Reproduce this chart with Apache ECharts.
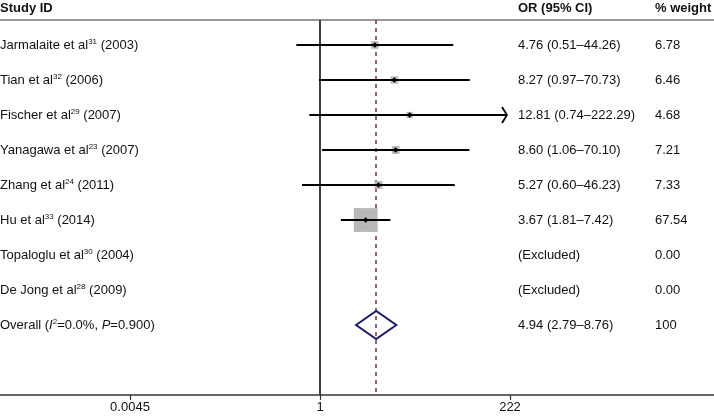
<!DOCTYPE html>
<html><head><meta charset="utf-8">
<script src="https://cdn.jsdelivr.net/npm/echarts@6/dist/echarts.min.js"></script>
<style>html,body{margin:0;padding:0;background:#fff}#c{width:714px;height:418px}</style>
</head><body><div id="c"></div>
<script>
// ---- data ----
const studyNames = ['Jarmalaite et al', 'Tian et al', 'Fischer et al', 'Yanagawa et al', 'Zhang et al', 'Hu et al', 'Topaloglu et al', 'De Jong et al'];
const studyRefs = ['31', '32', '29', '23', '24', '33', '30', '28'];
const studyYears = ['2003', '2006', '2007', '2007', '2011', '2014', '2004', '2009'];
const orValues = [4.76, 8.27, 12.81, 8.60, 5.27, 3.67, null, null];
const ciLower = [0.51, 0.97, 0.74, 1.06, 0.60, 1.81, null, null];
const ciUpper = [44.26, 70.73, 222.29, 70.10, 46.23, 7.42, null, null];
const weights = [6.78, 6.46, 4.68, 7.21, 7.33, 67.54, 0.00, 0.00];
const overallOR = [4.94];
const overallLower = [2.79];
const overallUpper = [8.76];
const overallWeight = ['100'];
const overallLabel = ['Overall (', 'I', '2', '=0.0%, ', 'P', '=0.900)'];
const headers = ['Study ID', 'OR (95% CI)', '% weight'];
const xTickValues = [0.0045, 1, 222.222];
const xTickLabels = ['0.0045', '1', '222'];
const nullLine = [1];

// ---- chart ----
const FONT = '"Liberation Sans", Arial, Helvetica, sans-serif';
const TXT = '#111';
const chart = echarts.init(document.getElementById('c'), null, {renderer: 'canvas'});
const nRows = studyNames.length + 1;
const overallRow = studyNames.length;

const studyData = [];
orValues.forEach((v, i) => { if (v != null) studyData.push([v, i, ciLower[i], ciUpper[i], weights[i]]); });

function fmt(v) { return v.toFixed(2); }
const ciText = orValues.map((v, i) => v == null ? '(Excluded)' : fmt(v) + ' (' + fmt(ciLower[i]) + '\u2013' + fmt(ciUpper[i]) + ')');
const wText = weights.map(w => w.toFixed(2));

const labelRows = [];
for (let i = 0; i < nRows; i++) labelRows.push([1, i]);

const richBase = {
  sup: {fontSize: 8, fontFamily: FONT, fill: TXT, verticalAlign: 'top', lineHeight: 8},
  it: {fontSize: 13, fontFamily: FONT, fill: TXT, fontStyle: 'italic', lineHeight: 15},
  n: {fontSize: 13, fontFamily: FONT, fill: TXT, lineHeight: 15}
};

const option = {
  animation: false,
  backgroundColor: '#fff',
  grid: {left: 130, right: 204, top: 20, bottom: 23, containLabel: false},
  xAxis: {
    type: 'log', logBase: 1 / 0.0045, min: 0.0045, max: 1 / 0.0045,
    axisLine: {show: false, onZero: false},
    axisTick: {show: true, length: 5, lineStyle: {color: '#333', width: 1.2}},
    minorTick: {show: false},
    splitLine: {show: false},
    axisLabel: {
      fontSize: 13, fontFamily: FONT, color: TXT, margin: 6,
      formatter: function (v) {
        let best = 0, bd = Infinity;
        xTickValues.forEach((t, k) => { const d = Math.abs(Math.log(v) - Math.log(t)); if (d < bd) { bd = d; best = k; } });
        return xTickLabels[best];
      }
    }
  },
  yAxis: {type: 'value', inverse: true, min: -25 / 35, max: 10, show: false},
  graphic: [
    {type: 'line', shape: {x1: 0, y1: 20, x2: 714, y2: 20}, style: {stroke: '#333', lineWidth: 1}, z: 10},
    {type: 'line', shape: {x1: 0, y1: 395, x2: 714, y2: 395}, style: {stroke: '#333', lineWidth: 1.5}, z: 10},
    {type: 'text', left: 0, top: 2, style: {text: headers[0], font: 'bold 13px ' + FONT, fill: TXT}},
    {type: 'text', left: 518, top: 2, style: {text: headers[1], font: 'bold 13px ' + FONT, fill: TXT}},
    {type: 'text', left: 655, top: 2, style: {text: headers[2], font: 'bold 13px ' + FONT, fill: TXT}}
  ],
  series: [
    {
      type: 'custom', name: 'studies', coordinateSystem: 'cartesian2d', clip: false,
      encode: {x: 0, y: 1},
      data: studyData,
      renderItem: function (params, api) {
        const or = api.value(0), row = api.value(1), lo = api.value(2), hi = api.value(3), w = api.value(4);
        const c = api.coord([or, row]);
        const pl = api.coord([lo, row]);
        const xMax = params.coordSys.x + params.coordSys.width;
        let phx = api.coord([hi, row])[0];
        const arrow = phx > xMax;
        if (arrow) phx = xMax - 3;
        const s = Math.sqrt(w) * 2.9;
        const children = [
          {type: 'rect', shape: {x: c[0] - s / 2, y: c[1] - s / 2, width: s, height: s}, style: {fill: '#b8b8b8'}},
          {type: 'line', shape: {x1: pl[0], y1: c[1], x2: phx, y2: c[1]}, style: {stroke: '#000', lineWidth: 1.8}},
          {type: 'polygon', shape: {points: [[c[0] - 2.8, c[1]], [c[0], c[1] - 2.8], [c[0] + 2.8, c[1]], [c[0], c[1] + 2.8]]}, style: {fill: '#000'}}
        ];
        if (arrow) {
          children.push({type: 'polyline', shape: {points: [[phx - 5, c[1] - 8], [phx, c[1]], [phx - 5, c[1] + 8]]}, style: {stroke: '#000', lineWidth: 1.8, fill: null}});
        }
        return {type: 'group', children: children};
      },
      markLine: {
        silent: true, symbol: 'none', label: {show: false},
        lineStyle: {color: '#000', width: 1.5, type: 'solid'},
        data: [{xAxis: nullLine[0]}]
      },
      z: 3
    },
    {
      type: 'custom', name: 'overall', coordinateSystem: 'cartesian2d', clip: false,
      encode: {x: 0, y: 1},
      data: [[overallOR[0], overallRow, overallLower[0], overallUpper[0]]],
      renderItem: function (params, api) {
        const or = api.value(0), row = api.value(1);
        const c = api.coord([or, row]);
        const l = api.coord([api.value(2), row]);
        const h = api.coord([api.value(3), row]);
        return {type: 'polygon', shape: {points: [[l[0], c[1]], [c[0], c[1] - 14], [h[0], c[1]], [c[0], c[1] + 14]]}, style: {stroke: '#1c1c6b', lineWidth: 2, fill: 'rgba(255,255,255,0)'}};
      },
      markLine: {
        silent: true, symbol: 'none', label: {show: false}, z: 1,
        lineStyle: {color: '#8a2a3a', width: 1.5, type: [4, 4]},
        data: [{xAxis: overallOR[0]}]
      },
      z: 2
    },
    {
      type: 'custom', name: 'labels', coordinateSystem: 'cartesian2d', clip: false,
      encode: {x: 0, y: 1},
      data: labelRows,
      renderItem: function (params, api) {
        const i = params.dataIndex;
        const y = api.coord([1, api.value(1)])[1];
        let nameText, ci, wt;
        if (i < studyNames.length) {
          nameText = '{n|' + studyNames[i] + '}{sup|' + studyRefs[i] + '}{n| (' + studyYears[i] + ')}';
          ci = ciText[i]; wt = wText[i];
        } else {
          nameText = '{n|' + overallLabel[0] + '}{it|' + overallLabel[1] + '}{sup|' + overallLabel[2] + '}{n|' + overallLabel[3] + '}{it|' + overallLabel[4] + '}{n|' + overallLabel[5] + '}';
          ci = fmt(overallOR[0]) + ' (' + fmt(overallLower[0]) + '\u2013' + fmt(overallUpper[0]) + ')';
          wt = overallWeight[0];
        }
        return {type: 'group', children: [
          {type: 'text', style: {x: 0, y: y, text: nameText, rich: richBase, verticalAlign: 'middle', textAlign: 'left', font: '13px ' + FONT, fill: TXT}},
          {type: 'text', style: {x: 518, y: y, text: ci, verticalAlign: 'middle', textAlign: 'left', font: '13px ' + FONT, fill: TXT}},
          {type: 'text', style: {x: 655, y: y, text: wt, verticalAlign: 'middle', textAlign: 'left', font: '13px ' + FONT, fill: TXT}}
        ]};
      },
      z: 5
    }
  ]
};
chart.setOption(option);
</script>
</body></html>
